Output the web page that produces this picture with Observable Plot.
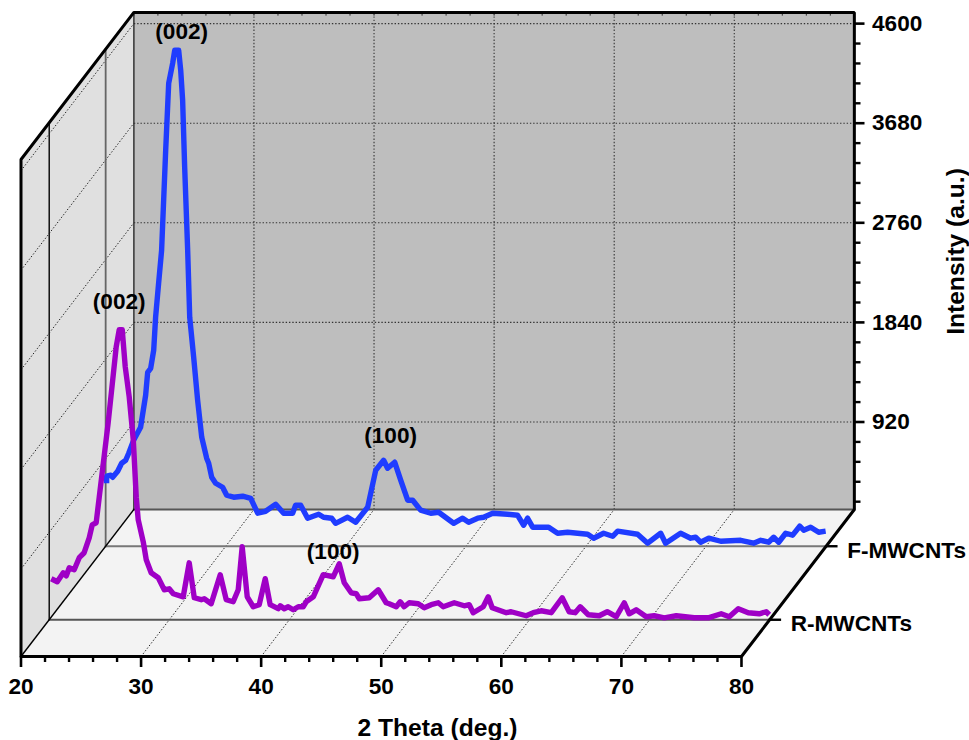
<!DOCTYPE html>
<html><head><meta charset="utf-8">
<style>html,body{margin:0;padding:0;background:#fff}svg{display:block}</style>
<script src="https://cdn.jsdelivr.net/npm/d3@7"></script>
<script src="https://cdn.jsdelivr.net/npm/@observablehq/plot@0.6"></script>
</head><body><div id="chart"></div>
<script>
const fTheta=[20.08,20.08,20.42,20.58,21.0,21.33,21.67,21.92,22.33,22.91,23.33,23.5,23.75,24.0,24.16,24.41,24.66,25.0,25.25,25.58,25.75,26.08,26.25,26.41,26.58,26.83,27.0,27.33,27.66,28.0,28.41,28.58,28.83,29.16,29.74,30.08,30.66,31.41,32.08,32.66,33.32,34.16,34.82,35.57,35.82,36.24,36.82,37.74,38.15,38.82,39.15,40.15,40.82,41.82,42.49,43.15,43.48,44.07,44.57,45.15,45.57,46.23,47.07,47.73,48.98,49.73,50.23,50.98,51.48,52.23,53.48,54.31,54.81,55.14,55.56,56.23,56.89,57.64,58.47,60.14,60.64,61.47,62.22,62.64,64.30,65.14,66.22,66.63,67.88,68.72,69.13,69.55,70.22,71.22,72.88,73.96,74.55,75.21,75.63,76.05,76.63,77.21,77.80,78.13,78.71,79.38,79.96];
const fIntensity=[694,759,768,749,805,879,906,971,1091,1211,1507,1719,1756,1922,2227,2541,2846,3770,4389,4573,4693,4693,4509,4232,3613,2846,2227,1858,1461,1119,925,879,749,694,657,583,565,574,555,417,435,500,417,417,491,491,371,408,380,371,324,380,334,472,814,906,832,888,722,537,537,445,417,426,324,371,334,371,380,417,408,398,306,371,288,288,288,232,241,223,186,232,204,251,223,140,232,140,232,186,195,149,186,158,167,140,167,149,195,149,232,214,297,260,288,241,251];
const rTheta=[20.17,20.67,21.17,21.42,21.67,22.08,22.50,22.91,23.33,23.58,23.91,24.16,24.91,25.58,25.83,26.08,26.33,26.66,27.0,27.25,27.41,27.83,28.08,28.49,29.08,29.58,29.99,30.33,31.16,31.66,32.08,32.66,32.91,33.49,34.24,34.74,35.32,35.74,36.07,36.49,36.99,37.49,37.99,38.40,39.07,39.24,39.57,39.90,40.32,40.74,41.15,41.40,41.99,42.82,43.65,44.15,44.57,45.15,45.57,45.82,46.65,47.40,48.06,48.31,48.90,49.23,49.56,49.98,50.73,51.23,51.81,52.40,52.81,53.73,54.56,54.98,55.31,56.14,56.56,56.89,58.06,58.47,59.72,60.31,60.97,61.81,62.72,63.30,63.80,64.22,64.89,65.80,66.47,67.22,67.89,68.30,68.88,69.72,70.38,71.22,72.22,73.71,74.88,75.96,76.63,77.38,78.21,79.13,79.71,79.96];
const rIntensity=[491,463,546,518,592,574,685,731,869,989,1008,1239,1932,2634,2791,2791,2449,2172,1775,1239,1036,832,666,546,500,389,398,352,324,638,315,297,306,260,528,297,278,389,786,324,232,251,491,251,214,241,214,232,204,232,232,278,324,528,509,629,454,361,352,306,315,389,269,260,232,278,232,269,260,223,251,269,232,269,241,251,177,232,324,223,177,186,149,177,195,177,315,186,177,232,158,149,186,140,269,167,204,140,149,130,149,130,130,167,140,214,177,167,186,158];

const thetaMajor=[20,30,40,50,60,70,80];
const thetaMinor=[22,24,26,28,32,34,36,38,42,44,46,48,52,54,56,58,62,64,66,68,72,74,76,78];
const intensityMajor=[920,1840,2760,3680,4600];
const intensityMinor=[184,368,552,736,1104,1288,1472,1656,2024,2208,2392,2576,2944,3128,3312,3496,3864,4048,4232,4416];
const seriesNames=["R-MWCNTs","F-MWCNTs"];
const seriesDepth=[0.25,0.75];
const peakLabels=["(002)","(100)","(002)","(100)"];
const peakTheta=[25.83,43.65,26.33,43.73];
const peakIntensity=[3049,740,4860,1137];
const peakDepth=[0.25,0.25,0.75,0.75];

const I0=112, ITop=4703, shiftT=9.4, shiftI=1358;
const X=(t,d)=>t+d*shiftT, Y=(i,d)=>i+d*shiftI;
const P=(t,i,d)=>({x:X(t,d),y:Y(i,d)});
const seg=(a,b,o={})=>({x1:a.x,y1:a.y,x2:b.x,y2:b.y,...o});
const link=(rows,stroke,w,dash)=>Plot.link(rows,{x1:"x1",y1:"y1",x2:"x2",y2:"y2",stroke,strokeWidth:w,strokeDasharray:dash,strokeLinecap:dash?"butt":"square"});
const poly=(pts,fill)=>Plot.line(pts,{x:"x",y:"y",fill,stroke:null});

const series=(ts,is,d)=>ts.map((t,k)=>P(t,is[k],d));
const dotted="1.4 1.9";
const heavy={fontWeight:"bold",fill:"#000"};

const svg=Plot.plot({
  width:969,height:740,marginLeft:20.5,marginRight:115.5,marginTop:12,marginBottom:84,
  x:{domain:[20,20+(853.5-20.5)/12.008],axis:null},
  y:{domain:[I0,I0+644*9.237],axis:null},
  style:{fontFamily:"'Liberation Sans',Arial,sans-serif",fontWeight:"bold",fontSize:"22px",color:"#000",background:"#fff",overflow:"visible"},
  marks:[
    // planes
    poly([P(20,I0,1),P(80,I0,1),P(80,ITop,1),P(20,ITop,1)],"#bebebe"),
    poly([P(20,I0,0),P(20,I0,1),P(20,ITop,1),P(20,ITop,0)],"#e0e0e0"),
    poly([P(20,I0,0),P(80,I0,0),P(80,I0,1),P(20,I0,1)],"#f3f3f3"),
    // grid on the back wall, side wall and floor
    link(intensityMajor.map(i=>seg(P(20,i,1),P(80,i,1))),"#333",1.1,dotted),
    link(thetaMajor.slice(1,-1).map(t=>seg(P(t,I0,1),P(t,ITop,1))),"#333",1.1,dotted),
    link(intensityMajor.map(i=>seg(P(20,i,0),P(20,i,1))),"#222",1,dotted),
    link(thetaMajor.slice(1,-1).map(t=>seg(P(t,I0,0),P(t,I0,1))),"#222",1,dotted),
    link(thetaMinor.concat(thetaMajor).map(t=>seg(P(t,ITop,1),P(t,ITop-25,1))),"#333",1),
    // depth planes of the two series
    link([seg(P(20,I0,.25),P(20,ITop,.25))],"#111",1.5),
    link([seg(P(20,I0,.75),P(20,ITop,.75))],"#666",1.8),
    link([seg(P(20,I0,.25),P(80,I0,.25))],"#555",1.8),
    link([seg(P(20,I0,.75),P(80,I0,.75))],"#777",2),
    link([seg(P(20,I0,1),P(80,I0,1))],"#555",2),
    link([seg(P(20,I0,1),P(20,ITop,1))],"#333",1.5),
    link([seg(P(20,I0,0),P(20,I0,1))],"#000",1.5),
    // depth-axis ticks and labels
    link(seriesDepth.map(d=>seg(P(80,I0,d),P(80.85,I0,d))),"#000",2.4),
    Plot.text(seriesNames,{x:(n,k)=>X(81.75,seriesDepth[k]),y:(n,k)=>Y(I0-40,seriesDepth[k]),text:d=>d,textAnchor:"start",fontSize:22.6,...heavy}),
    // data
    Plot.line(series(fTheta,fIntensity,.75),{x:"x",y:"y",stroke:"#1f3cff",strokeWidth:5.4,strokeLinejoin:"round",strokeLinecap:"butt"}),
    Plot.line(series(rTheta,rIntensity,.25),{x:"x",y:"y",stroke:"#9f00c6",strokeWidth:5.4,strokeLinejoin:"round",strokeLinecap:"butt"}),
    // outer frame
    Plot.line([P(20,I0,0),P(20,ITop,0),P(20,ITop,1),P(80,ITop,1),P(80,I0,1),P(80,I0,0),P(20,I0,0)],{x:"x",y:"y",stroke:"#000",strokeWidth:3,strokeLinejoin:"miter"}),
    // axes
    Plot.axisX({ticks:thetaMajor,anchor:"bottom",tickSize:11,tickPadding:10,strokeWidth:2.6,label:null,fontSize:22.6,fontWeight:"bold"}),
    Plot.axisX({ticks:thetaMinor,anchor:"bottom",tickSize:6,tickFormat:()=>"",strokeWidth:2.4,label:null}),
    Plot.axisY({ticks:intensityMajor.map(i=>Y(i,1)),anchor:"right",tickSize:10,tickPadding:8,strokeWidth:2.6,label:null,tickFormat:v=>String(Math.round(v-shiftI)),fontSize:22.6,fontWeight:"bold"}),
    Plot.axisY({ticks:intensityMinor.map(i=>Y(i,1)),anchor:"right",tickSize:6,tickFormat:()=>"",strokeWidth:2.4,label:null}),
    // peak annotations
    Plot.text(peakLabels,{x:(n,k)=>X(peakTheta[k],peakDepth[k]),y:(n,k)=>Y(peakIntensity[k],peakDepth[k]),text:d=>d,fontSize:22.6,...heavy}),
    // axis titles
    Plot.text(["2 Theta (deg.)"],{frameAnchor:"bottom",dy:72,fontSize:24.6,lineAnchor:"middle",...heavy}),
    Plot.text(["Intensity (a.u.)"],{x:()=>97.85,y:()=>3853,rotate:-90,fontSize:24.6,lineAnchor:"middle",...heavy})
  ]
});
document.getElementById("chart").append(svg);
</script></body></html>
